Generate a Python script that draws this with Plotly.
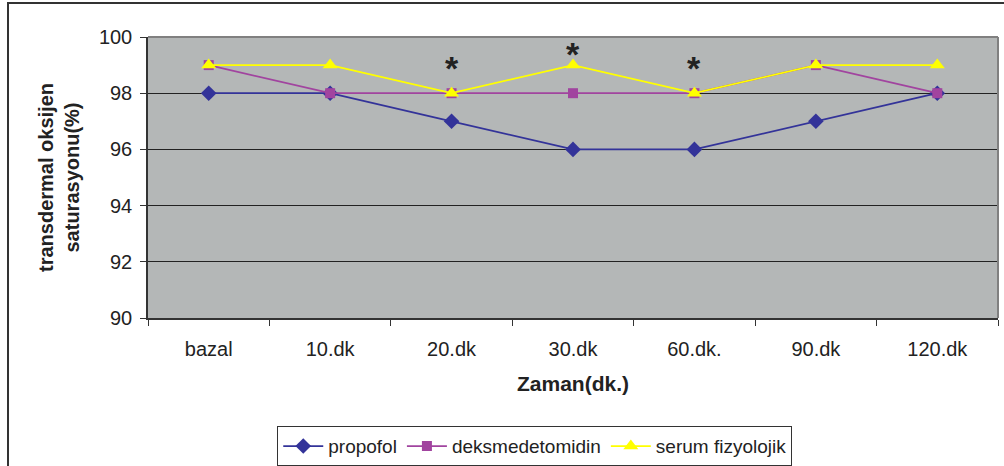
import plotly.graph_objects as go

categories = ["bazal", "10.dk", "20.dk", "30.dk", "60.dk.", "90.dk", "120.dk"]
propofol = [98, 98, 97, 96, 96, 97, 98]
deksmedetomidin = [99, 98, 98, 98, 98, 99, 98]
serum_fizyolojik = [99, 99, 98, 99, 98, 99, 99]

# significance marks: (category, y level)
star_cats = ["20.dk", "30.dk", "60.dk."]
star_levels = [98.9, 99.38, 98.9]

font = "Liberation Sans, Arial, sans-serif"

fig = go.Figure()
fig.add_trace(go.Scatter(
    x=categories, y=propofol, name="propofol", mode="lines+markers",
    line=dict(color="#333399", width=1.7),
    marker=dict(symbol="diamond", size=12, color="#333399")))
fig.add_trace(go.Scatter(
    x=categories, y=deksmedetomidin, name="deksmedetomidin", mode="lines+markers",
    line=dict(color="#A1449F", width=1.7),
    marker=dict(symbol="square", size=10, color="#A1449F")))
fig.add_trace(go.Scatter(
    x=categories, y=serum_fizyolojik, name="serum fizyolojik", mode="lines+markers",
    line=dict(color="#FFFF00", width=1.7),
    marker=dict(symbol="triangle-up", size=13, color="#FFFF00")))

for c, lvl in zip(star_cats, star_levels):
    fig.add_annotation(x=c, y=lvl, text="<b>*</b>", showarrow=False,
                       font=dict(family=font, size=34, color="#222222"),
                       yanchor="middle")

# outer chart frame
fig.add_shape(type="rect", xref="paper", yref="paper",
              x0=-0.1647, x1=1.02, y0=-0.6, y1=1.121,
              line=dict(color="#333333", width=2), layer="below")

fig.update_layout(
    width=1004, height=466,
    margin=dict(l=148, r=6, t=37, b=148, autoexpand=False),
    paper_bgcolor="white",
    plot_bgcolor="#B4B7B7",
    font=dict(family=font, size=20, color="#222222"),
    showlegend=True,
    legend=dict(orientation="h", x=0.455, xanchor="center", y=-0.385, yanchor="top",
                bordercolor="#333333", borderwidth=1, bgcolor="white",
                font=dict(size=19, family=font), itemwidth=40),
    xaxis=dict(
        type="category", range=[-0.5, 6.5], automargin=False,
        showline=True, linecolor="#333333", linewidth=1.5,
        ticks="outside", tickson="boundaries", ticklen=6, tickcolor="#333333",
        showgrid=False, mirror=False,
        tickfont=dict(size=20), ticklabelstandoff=12,
        title=dict(text="<b>Zaman(dk.)</b>", font=dict(size=21), standoff=18)),
    yaxis=dict(
        range=[90, 100], dtick=2, tick0=90, automargin=False,
        showline=True, linecolor="#333333", linewidth=1.5,
        ticks="outside", ticklen=6, tickcolor="#333333",
        showgrid=True, gridcolor="#222222", gridwidth=1,
        zeroline=False,
        tickfont=dict(size=20), ticklabelstandoff=4,
        title=dict(text="<b>transdermal oksijen<br>saturasyonu(%)</b>",
                   font=dict(size=20), standoff=14)),
)

# gray frame at top and right of plotting area
fig.add_shape(type="line", xref="paper", yref="paper", x0=0, x1=1, y0=1, y1=1,
              line=dict(color="#808080", width=2))
fig.add_shape(type="line", xref="paper", yref="paper", x0=1, x1=1, y0=0, y1=1,
              line=dict(color="#808080", width=2))

fig.write_html("out.html")
